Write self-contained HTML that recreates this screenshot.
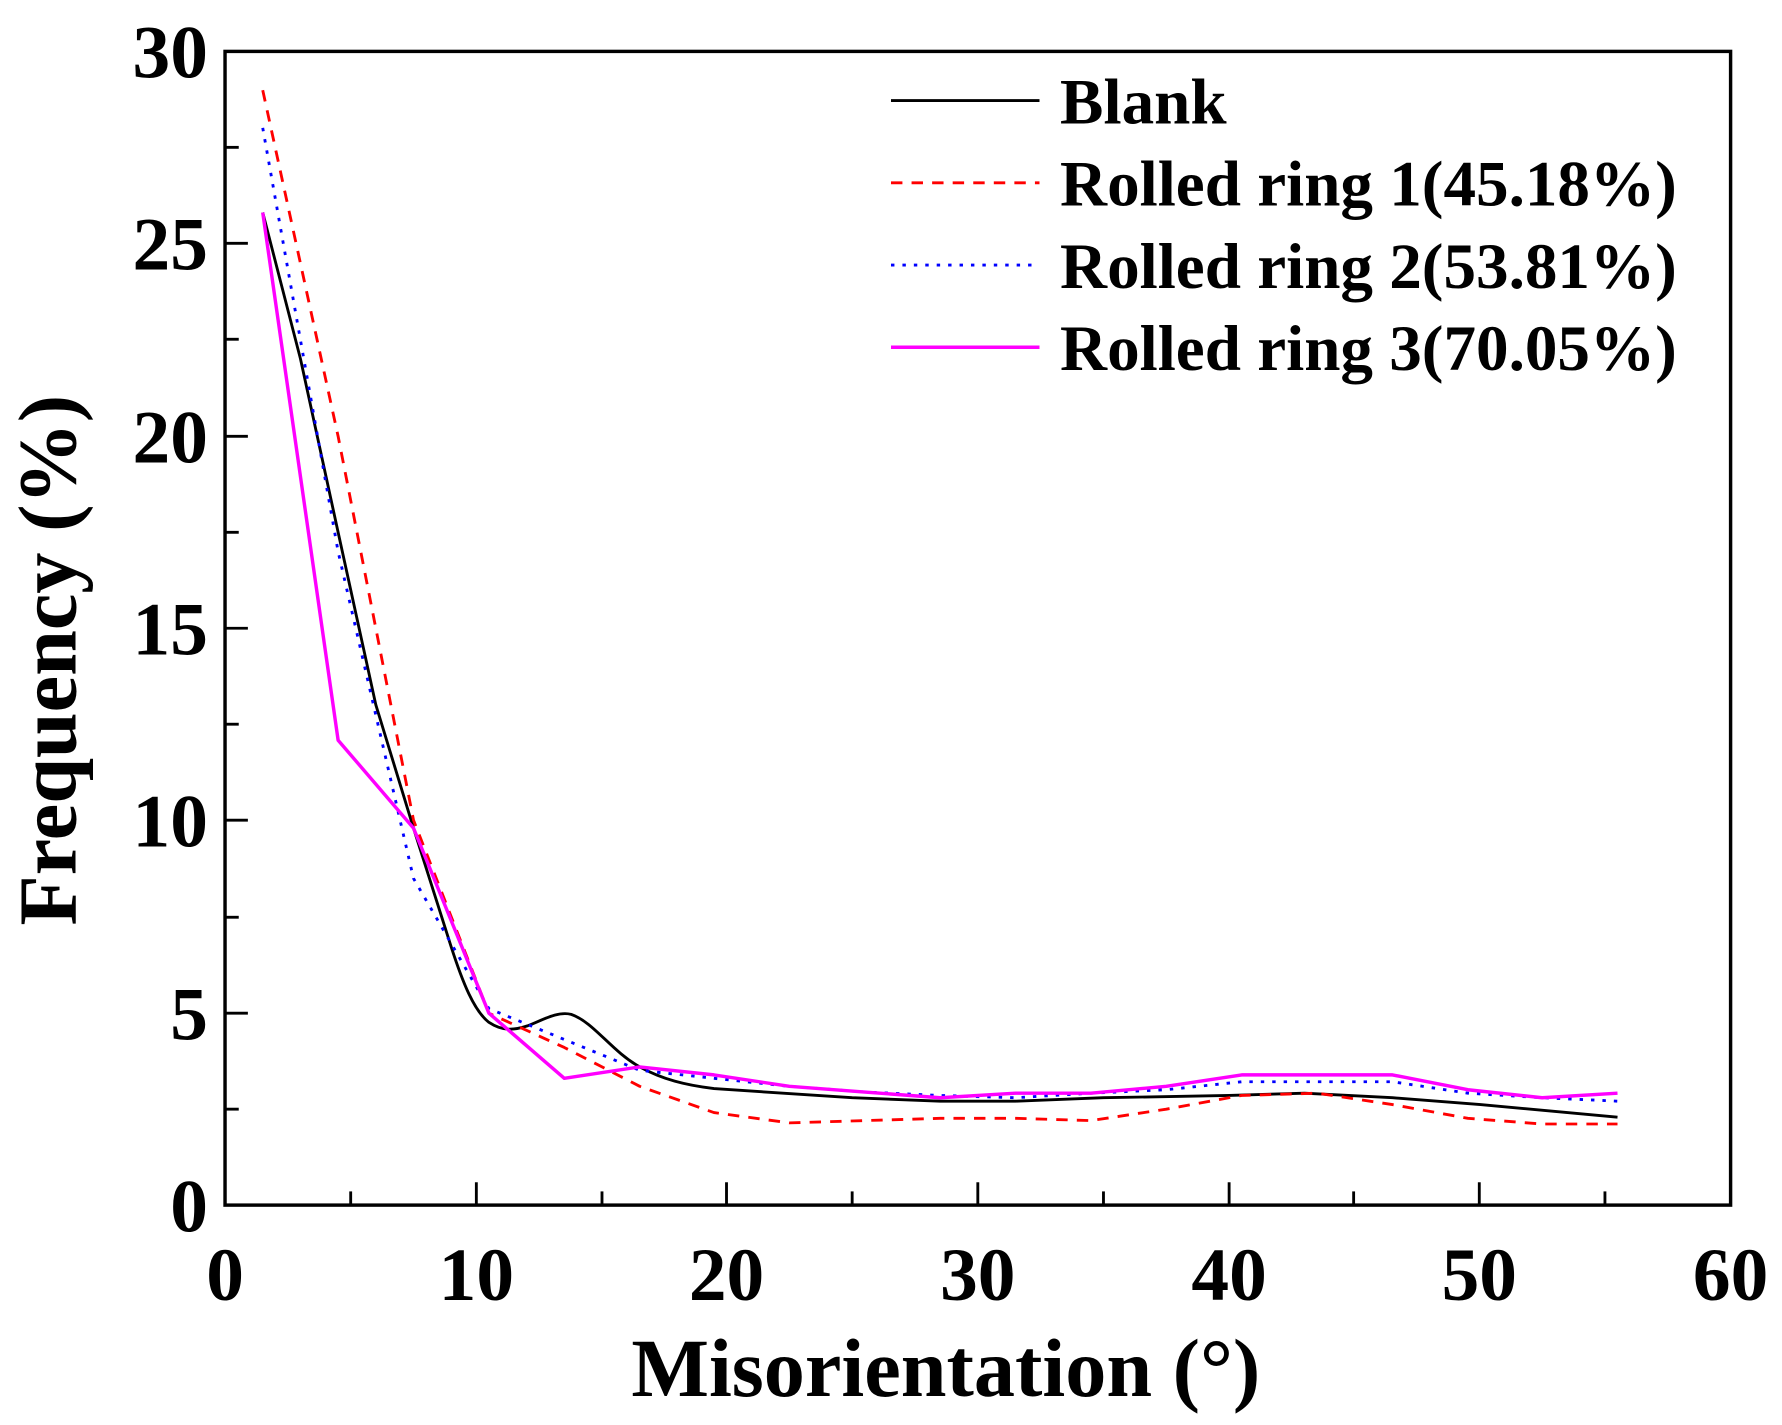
<!DOCTYPE html>
<html><head><style>
html,body{margin:0;padding:0;background:#fff;}
svg{display:block;}
text{font-family:"Liberation Serif",serif;font-weight:bold;fill:#000;}
</style></head><body>
<svg width="1782" height="1425" viewBox="0 0 1560 1247.5" preserveAspectRatio="none">
<rect x="0" y="0" width="1560" height="1247.5" fill="#fff"/>
<rect x="197" y="45" width="1318" height="1010" fill="none" stroke="#000" stroke-width="3"/>
<g stroke="#000" stroke-width="2.5">
<line x1="417" y1="1055" x2="417" y2="1035"/><line x1="636" y1="1055" x2="636" y2="1035"/>
<line x1="856" y1="1055" x2="856" y2="1035"/><line x1="1076" y1="1055" x2="1076" y2="1035"/>
<line x1="1295" y1="1055" x2="1295" y2="1035"/>
<line x1="307" y1="1055" x2="307" y2="1043"/><line x1="527" y1="1055" x2="527" y2="1043"/>
<line x1="746" y1="1055" x2="746" y2="1043"/><line x1="966" y1="1055" x2="966" y2="1043"/>
<line x1="1185" y1="1055" x2="1185" y2="1043"/><line x1="1405" y1="1055" x2="1405" y2="1043"/>
<line x1="197" y1="887" x2="217" y2="887"/><line x1="197" y1="718" x2="217" y2="718"/>
<line x1="197" y1="550" x2="217" y2="550"/><line x1="197" y1="382" x2="217" y2="382"/>
<line x1="197" y1="213" x2="217" y2="213"/>
<line x1="197" y1="971" x2="209" y2="971"/><line x1="197" y1="803" x2="209" y2="803"/>
<line x1="197" y1="634" x2="209" y2="634"/><line x1="197" y1="466" x2="209" y2="466"/>
<line x1="197" y1="297" x2="209" y2="297"/><line x1="197" y1="129" x2="209" y2="129"/>
</g>
<g font-size="66" text-anchor="end">
<text x="182" y="1078">0</text><text x="182" y="910">5</text><text x="182" y="741">10</text>
<text x="182" y="573">15</text><text x="182" y="405">20</text><text x="182" y="236">25</text>
<text x="182" y="68">30</text>
</g>
<g font-size="66" text-anchor="middle">
<text x="197" y="1138">0</text><text x="417" y="1138">10</text><text x="636" y="1138">20</text>
<text x="856" y="1138">30</text><text x="1076" y="1138">40</text><text x="1295" y="1138">50</text>
<text x="1515" y="1138">60</text>
</g>
<text x="828" y="1222" font-size="72" text-anchor="middle">Misorientation (°)</text>
<text transform="translate(66,578) rotate(-90)" font-size="72" text-anchor="middle">Frequency (%)</text>
<g fill="none" stroke-width="2.5" stroke-linejoin="round">
<path stroke="#000" d="M230,186 L263,314 L296,466 L329,617 L362,725 L395,829 C405,860 415,885 428,895 C440,903 450,902 462,898 C475,893 488,885 500,888 C520,895 535,920 560,934 C580,945 600,950 625,953 L746,961 L823,964 L889,964 L966,961 L1076,959 L1142,957 L1219,961 L1296,967 L1416,978"/>
<polyline stroke="#ff0000" stroke-dasharray="10,8" points="230,79 296,382 362,718 428,887 494,917 560,951 625,974 691,983 757,981 823,979 889,979 955,981 1021,971 1087,959 1153,957 1219,967 1285,979 1350,984 1416,984"/>
<polyline stroke="#0000ff" stroke-dasharray="3,7" points="230,112 296,483 362,769 428,883 494,910 560,937 625,944 691,951 757,956 823,959 889,961 955,957 1021,954 1087,947 1153,947 1219,947 1285,957 1350,961 1416,964"/>
<polyline stroke="#ff00ff" stroke-width="3" points="230,186 296,648 362,725 428,887 494,944 560,934 625,941 691,951 757,956 823,961 889,957 955,957 1021,951 1087,941 1153,941 1219,941 1285,954 1350,961 1416,957"/>
</g>
<g stroke-width="2.5">
<line x1="780" y1="88" x2="910" y2="88" stroke="#000"/>
<line x1="780" y1="160" x2="910" y2="160" stroke="#ff0000" stroke-dasharray="10,8"/>
<line x1="780" y1="232" x2="910" y2="232" stroke="#0000ff" stroke-dasharray="3,7"/>
<line x1="780" y1="304" x2="910" y2="304" stroke="#ff00ff" stroke-width="3"/>
</g>
<g font-size="57">
<text x="928" y="108">Blank</text>
<text x="928" y="180">Rolled ring 1(45.18%)</text>
<text x="928" y="252">Rolled ring 2(53.81%)</text>
<text x="928" y="324">Rolled ring 3(70.05%)</text>
</g>
</svg>
</body></html>
